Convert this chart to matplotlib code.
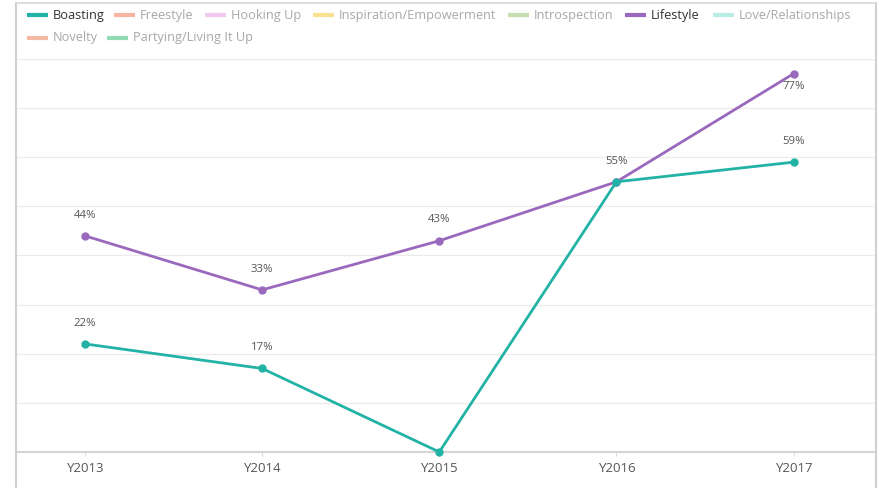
import matplotlib
matplotlib.use("Agg")
import matplotlib.pyplot as plt
from matplotlib.lines import Line2D
import numpy as np

plt.rcParams['font.family'] = ['Open Sans', 'DejaVu Sans']

years = ["Y2013", "Y2014", "Y2015", "Y2016", "Y2017"]
boasting = [22, 17, 0, 55, 59]
lifestyle = [44, 33, 43, 55, 77]

legend_names = ["Boasting", "Freestyle", "Hooking Up", "Inspiration/Empowerment",
                "Introspection", "Lifestyle", "Love/Relationships",
                "Novelty", "Partying/Living It Up"]
legend_colors = ["#23b3a6", "#f5b5a0", "#f2c9ee", "#f8e190", "#c9ddb2",
                 "#9a69bd", "#b9ebe7", "#f3b9a5", "#8fdcb2"]
legend_active = [True, False, False, False, False, True, False, False, False]

W, H = 881, 488
fig = plt.figure(figsize=(W / 100, H / 100), dpi=100)
fig.patch.set_facecolor("white")

def fx(px):
    return px / W

def fy(py):
    return 1 - py / H

# axes area: x 16..875, y 59..452
ax = fig.add_axes([fx(16), fy(452), fx(875) - fx(16), fy(59) - fy(452)])
x = np.arange(len(years))
ax.set_xlim(-0.39, 4.46)
ax.set_ylim(0, 80)

for v in range(10, 81, 10):
    ax.axhline(v, color="#ebebeb", lw=0.9, zorder=0)

c_b = legend_colors[0]
c_l = legend_colors[5]
ax.plot(x, lifestyle, color=c_l, lw=2, marker="o", ms=5, zorder=3, clip_on=False)
ax.plot(x, boasting, color=c_b, lw=2, marker="o", ms=5, zorder=4, clip_on=False)

lab_kw = dict(textcoords="offset points", ha="center", va="bottom",
              fontsize=8.2, color="#555555")
for i, v in enumerate(lifestyle):
    if i == len(lifestyle) - 1:
        ax.annotate(f"{v}%", (x[i], v), xytext=(0, -13), **lab_kw)
    else:
        ax.annotate(f"{v}%", (x[i], v), xytext=(0, 11), **lab_kw)
for i, v in enumerate(boasting):
    if v == 0 or (v == lifestyle[i]):
        continue
    ax.annotate(f"{v}%", (x[i], v), xytext=(0, 11), **lab_kw)

ax.set_xticks(x)
ax.set_xticklabels(years, fontsize=9.5, color="#555555")
ax.set_yticks([])
ax.tick_params(axis="x", length=3, color="#dddddd", pad=4)
for s in ["top", "right", "left"]:
    ax.spines[s].set_visible(False)
ax.spines["bottom"].set_color("#d5d5d5")
ax.spines["bottom"].set_linewidth(1.5)
ax.set_facecolor("none")

# frame lines
fig.add_artist(Line2D([fx(15.5), fx(15.5)], [fy(3), 0], color="#d0d0d0", lw=1.5))
fig.add_artist(Line2D([fx(875.5), fx(875.5)], [fy(3), 0], color="#d0d0d0", lw=1.5))
fig.add_artist(Line2D([fx(15.5), fx(875.5)], [fy(3), fy(3)], color="#d8d8d8", lw=1.2))

# legend
row_y = [15, 38]
layout = [(0, 27), (0, 114), (0, 205), (0, 313), (0, 508), (0, 625), (0, 713),
          (1, 27), (1, 107)]
for name, col, act, (r, px) in zip(legend_names, legend_colors, legend_active, layout):
    yy = fy(row_y[r])
    fig.add_artist(Line2D([fx(px), fx(px + 21)], [yy, yy], color=col, lw=3,
                          solid_capstyle="butt"))
    fig.text(fx(px + 26), yy, name, fontsize=9.2, va="center", ha="left",
             color="#333333" if act else "#a8a8a8")

fig.savefig("out.png", dpi=100, facecolor="white")
